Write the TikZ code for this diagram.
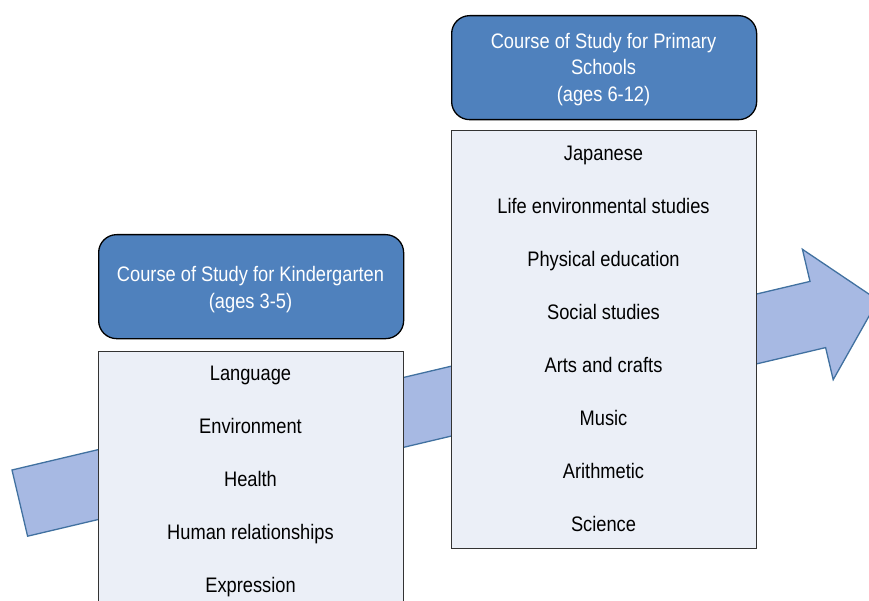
\documentclass[tikz,border=0pt]{standalone}
\usepackage{fontspec}
\setmainfont{Liberation Sans}
\definecolor{hdrblue}{RGB}{79,129,189}
\definecolor{bodyfill}{RGB}{235,239,247}
\definecolor{arrowfill}{RGB}{167,185,227}
\definecolor{arrowline}{RGB}{65,113,160}
\newcommand\itemfont{\fontsize{21}{26.5}\selectfont}
\begin{document}
\begin{tikzpicture}[x=1pt,y=-1pt,
  hdrbox/.style={draw=black, line width=1.3pt, fill=hdrblue, rounded corners=18pt,
    minimum width=305pt, minimum height=104pt, anchor=north west, inner sep=0pt},
  bodybox/.style={draw=black!80, line width=1pt, fill=bodyfill,
    minimum width=305pt, anchor=north west, inner sep=0pt},
  itemtext/.style={anchor=base, font=\itemfont, xscale=0.87, inner sep=0pt, text=black},
  hdrtext/.style={anchor=base, font=\itemfont, xscale=0.87, inner sep=0pt, text=white, align=center},
  bigarrow/.style={draw=arrowline, line width=1.3pt, fill=arrowfill, line join=miter}]
\useasboundingbox (0,0) rectangle (869,601);
\clip (0,0) rectangle (869,601);
% arrow
\draw[bigarrow] (12,470) -- (810,281.4) -- (802.4,249.3) -- (878,300.2)
  -- (833.2,379.7) -- (825.6,347.6) -- (27.6,536.2) -- cycle;
% kindergarten
\node[hdrbox] (khdr) at (98,234) {};
\node[bodybox, minimum height=280pt] (kbody) at (98,351) {};
\node[hdrtext] (khdrtxt) at (250.5,308.5) {Course of Study for Kindergarten\\(ages 3-5)};
\node[itemtext] (k1) at (250.5,380) {Language};
\node[itemtext] (k2) at (250.5,433) {Environment};
\node[itemtext] (k3) at (250.5,486) {Health};
\node[itemtext] (k4) at (250.5,539) {Human relationships};
\node[itemtext] (k5) at (250.5,592) {Expression};
% primary
\node[hdrbox] (phdr) at (451,15) {};
\node[bodybox, minimum height=418pt] (pbody) at (451,130) {};
\node[hdrtext] (phdrtxt) at (603.5,101.5) {Course of Study for Primary\\Schools\\(ages 6-12)};
\node[itemtext] (p1) at (603.5,160.5) {Japanese};
\node[itemtext] (p2) at (603.5,213.5) {Life environmental studies};
\node[itemtext] (p3) at (603.5,266.5) {Physical education};
\node[itemtext] (p4) at (603.5,319.5) {Social studies};
\node[itemtext] (p5) at (603.5,372.5) {Arts and crafts};
\node[itemtext] (p6) at (603.5,425.5) {Music};
\node[itemtext] (p7) at (603.5,478.5) {Arithmetic};
\node[itemtext] (p8) at (603.5,531.5) {Science};
\end{tikzpicture}
\end{document}
